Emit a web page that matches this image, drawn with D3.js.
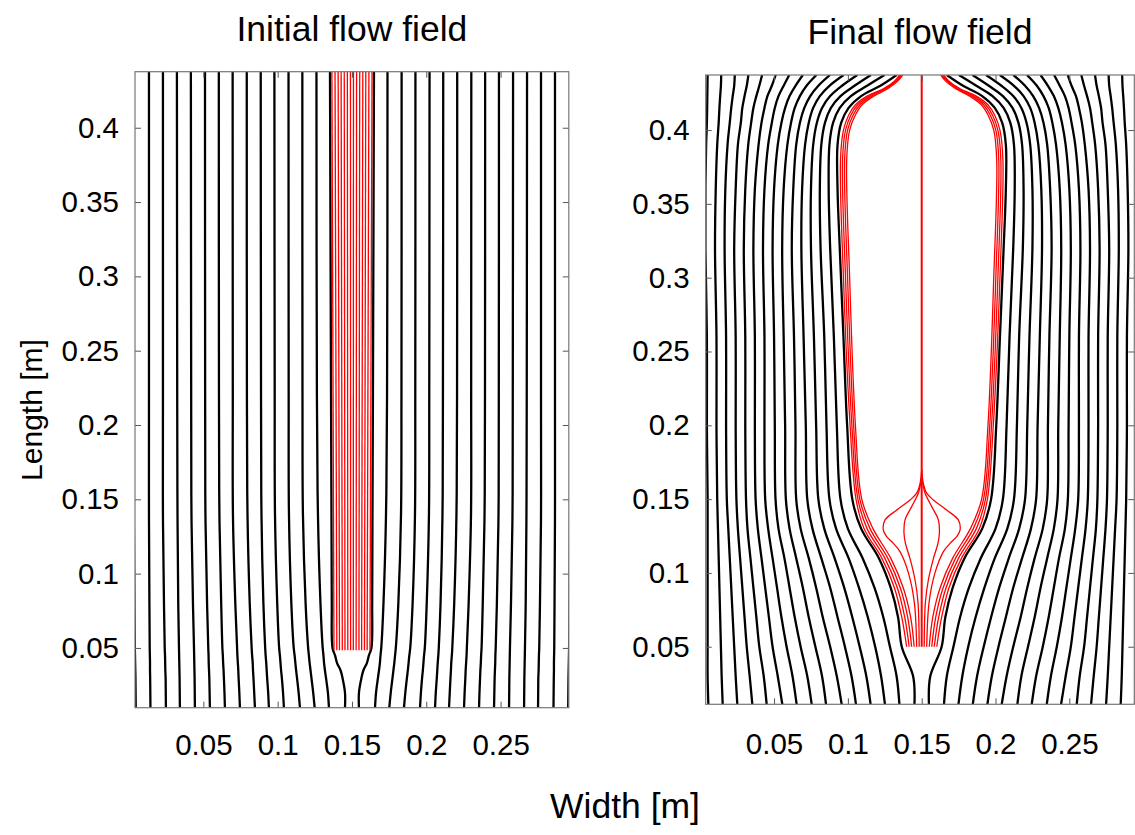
<!DOCTYPE html>
<html>
<head>
<meta charset="utf-8">
<script src="https://cdn.jsdelivr.net/npm/d3@7"></script>
<style>
  body { margin: 0; background: #ffffff; }
  svg { display: block; }
  text { font-family: "Liberation Sans", Arial, Helvetica, sans-serif; fill: #000; }
</style>
</head>
<body>
<svg id="chart" width="1135" height="835"></svg>
<script>
// ---------------------------------------------------------------
// Axis ticks
const xTickValues = [0.05, 0.1, 0.15, 0.2, 0.25];
const yTickValues = [0.05, 0.1, 0.15, 0.2, 0.25, 0.3, 0.35, 0.4];

// Channel centreline (m); streamlines are listed for the left half as
// signed distances from it (mm) and drawn on both sides.
const centreX = 0.15;

// ---------------------------------------------------------------
// Initial flow field
const initialLevels = [0.0098, 0.02, 0.03, 0.035, 0.04, 0.045, 0.05, 0.08, 0.14, 0.22, 0.4377];
const initialBlack = [
  [-4.7, -4.7, -6.4, -7.7, -10.1, -11.4, -13.1, -13.6, -13.8, -14.1, -14.8],
  [-15.5, -16.2, -17.5, -18.2, -18.8, -19.2, -19.7, -21.2, -22.9, -23.6, -23.9],
  [-25.1, -26.1, -27.3, -27.9, -28.5, -29.0, -29.5, -31.2, -33.0, -33.3, -33.4],
  [-35.0, -35.9, -37.0, -37.6, -38.1, -38.6, -39.2, -40.8, -42.4, -42.6, -42.7],
  [-45.8, -46.4, -47.2, -47.7, -48.1, -48.5, -49.0, -50.3, -51.8, -52.0, -52.2],
  [-55.9, -56.4, -57.1, -57.4, -57.7, -58.1, -58.4, -59.6, -60.9, -61.2, -61.4],
  [-65.3, -65.8, -66.3, -66.6, -66.8, -67.2, -67.5, -68.8, -70.3, -70.7, -70.8],
  [-75.4, -75.8, -76.3, -76.5, -76.8, -77.1, -77.3, -78.5, -80.1, -80.2, -80.3],
  [-85.5, -85.8, -86.2, -86.4, -86.7, -86.9, -87.2, -88.0, -89.2, -89.5, -89.6],
  [-95.6, -95.8, -96.0, -96.2, -96.4, -96.5, -96.7, -97.5, -98.6, -98.8, -98.9],
  [-105.7, -105.8, -105.9, -106.0, -106.1, -106.2, -106.3, -107.0, -108.0, -108.2, -108.4],
  [-115.8, -115.9, -116.0, -116.1, -116.2, -116.3, -116.4, -116.9, -117.4, -117.6, -117.8],
  [-125.2, -125.3, -125.4, -125.6, -125.7, -125.8, -126.0, -126.5, -127.2, -127.2, -127.2],
  [-135.6, -135.7, -135.8, -135.9, -135.9, -136.0, -136.1, -136.3, -136.6, -136.6, -136.6],
  [-145.5, -145.6, -145.7, -145.8, -145.9, -146.0, -146.1, -146.4, -146.8, -147.0, -147.0]
];
// jet streamlines (red): distance at the start height and at the top
const initialRedLevels = [0.0485, 0.4377];
const initialRed = [
  [-12.1, -13.5], [-10.2, -11.4], [-8.4, -9.3], [-6.5, -7.3], [-4.7, -5.2], [-2.8, -3.1], [-0.9, -1.0]
];

// ---------------------------------------------------------------
// Final flow field
const finalLevels = [0.011, 0.03, 0.05, 0.07, 0.09, 0.11, 0.13, 0.15, 0.2,
                     0.26, 0.32, 0.36, 0.39, 0.405, 0.415, 0.423, 0.43, 0.4373];
const finalBlack = [
  [-4.9, -5.8, -13.5, -16, -21, -29, -41, -47, -50.5,   -53, -55.5, -57, -57, -54.5, -49.5, -41, -28, -17],
  [-15.1, -17, -21.5, -26, -32, -40, -50, -55, -57.5,   -59.5, -62, -63, -62.5, -60, -55.5, -48, -37, -25.2],
  [-24.9, -27.5, -31.5, -36.5, -42.5, -49.5, -58, -62.5, -64.5,   -66, -68.5, -69, -68, -65.5, -61.5, -55, -45.5, -34.4],
  [-34.6, -37.5, -42, -47, -52.5, -59, -66, -70, -71.5,   -73, -75, -75, -73.5, -71, -67.5, -62, -54, -43.6],
  [-44.5, -47.5, -52, -57, -62, -68, -74, -77.5, -78.5,   -80, -81.5, -81, -79, -76.5, -73.5, -69, -62.5, -52.9],
  [-54.2, -57.5, -62, -67, -71.5, -76.5, -82, -85, -85.5,   -86.5, -88, -87, -85, -82.5, -79.5, -75.5, -70, -62.1],
  [-64.8, -67.5, -72, -76.5, -80.5, -85, -89.5, -92, -92.5,   -93.5, -94.5, -93.5, -91, -88.5, -86, -82.5, -78, -71.3],
  [-74.5, -77.5, -82, -86, -89.5, -93, -97, -99, -99.5,   -100, -101, -100, -97.5, -95, -92.5, -89.5, -85.5, -80.5],
  [-84.7, -87.5, -91.5, -95, -98, -101, -104, -106, -106.5,   -106.5, -107.5, -106.5, -104, -101.5, -99.5, -97, -93.5, -89.7],
  [-94.4, -97.5, -101, -103.5, -106, -108.5, -111, -112.5, -113,   -113, -114, -113, -110.5, -108.5, -106.5, -104.5, -101.5, -98.9],
  [-105, -107, -110, -112, -114, -116, -118, -119, -119.5,   -119.5, -120.5, -119.5, -117.5, -115.5, -114, -112, -110, -108.1],
  [-114.7, -116.5, -118.5, -120, -121.5, -123, -124.5, -125.5, -126,   -126, -127, -126, -124.5, -122.5, -121.5, -120, -118.5, -117.4],
  [-124.9, -126, -127, -128, -129, -130, -131, -132, -132.5,   -132.5, -133.5, -133, -131.5, -130, -129, -128, -127, -126.6],
  [-134.8, -135.5, -136, -136.5, -137, -137.5, -138, -138.5, -139,   -139, -140, -139.5, -138.5, -137.5, -137, -136.5, -136, -135.8],
  [-144.5, -145, -145, -145, -145, -145, -145, -145, -145.5,   -145.5, -146.5, -146.5, -146, -145.5, -145.3, -145.2, -145.1, -145]
];
// recirculation boundary streamlines (red)
const finalBundleLevels = [0.05, 0.07, 0.09, 0.11, 0.13, 0.15, 0.2, 0.3, 0.38, 0.4, 0.41, 0.417, 0.423, 0.428, 0.433, 0.4373];
const finalBundle = [
  [-10.2, -13.5, -18.5, -27, -39, -44.5, -48.5, -53, -55, -53, -49.5, -45, -37, -26, -18.5, -15],
  [-8.5, -11.5, -16.5, -25, -37, -43.2, -47.3, -51.6, -53.6, -51.6, -48, -43.5, -35.5, -25, -17.8, -14.3],
  [-6.8, -9.5, -14.5, -23, -35, -41.9, -46.1, -50.2, -52.2, -50.2, -46.5, -42, -34, -24, -17.1, -13.6],
  [-5.1, -7.5, -12.5, -21, -33, -40.6, -44.9, -48.8, -50.8, -48.8, -45, -40.5, -32.5, -23, -16.4, -12.9]
];
// inner loops closing onto the centreline: [distance mm, height m]
const finalLoops = [
  [[-3.4, 0.05], [-5, 0.08], [-9, 0.1], [-14.7, 0.1144], [-19.2, 0.12], [-24, 0.125], [-26, 0.1291],
   [-24.8, 0.1359], [-16.9, 0.1426], [-7.9, 0.1494], [-3.4, 0.154], [-1.1, 0.1607], [0, 0.17]],
  [[-1.7, 0.05], [-2.5, 0.08], [-4.5, 0.0952], [-8, 0.11], [-11, 0.12], [-12, 0.127], [-11.3, 0.1359],
   [-6.8, 0.1449], [-2.3, 0.154], [-0.7, 0.1607], [0, 0.165]]
];
const finalCentreLevels = [0.05, 0.4373];

// ---------------------------------------------------------------
const panels = [
  { title: "Initial flow field", left: 135, right: 568.8, top: 71.7, bottom: 707.7,
    xDomain: [0.0040, 0.2959], yDomain: [0.0098, 0.4377], titleY: 41, xPad: 26 },
  { title: "Final flow field", left: 705.7, right: 1134.3, top: 75, bottom: 704.3,
    xDomain: [0.0037, 0.2940], yDomain: [0.011, 0.4373], titleY: 44, xPad: 28.5 }
];

const svg = d3.select("#chart");
const fmt = d => String(d);

panels.forEach((p, i) => {
  p.x = d3.scaleLinear().domain(p.xDomain).range([p.left, p.right]);
  p.y = d3.scaleLinear().domain(p.yDomain).range([p.bottom, p.top]);
  svg.append("defs").append("clipPath").attr("id", "clip" + i)
    .append("rect").attr("x", p.left).attr("y", p.top)
    .attr("width", p.right - p.left).attr("height", p.bottom - p.top);
  p.g = svg.append("g");
  p.plot = p.g.append("g").attr("clip-path", `url(#clip${i})`);
  p.line = d3.line().x(d => p.x(d[0])).y(d => p.y(d[1])).curve(d3.curveCatmullRom.alpha(0.5));
});

// both mirror images of one half-streamline
function pair(offsets, levels) {
  const l = levels.map((y, j) => [centreX + offsets[j] / 1000, y]);
  const r = levels.map((y, j) => [centreX - offsets[j] / 1000, y]);
  return [l, r];
}
function pairPts(pts) {
  const l = pts.map(d => [centreX + d[0] / 1000, d[1]]);
  const r = pts.map(d => [centreX - d[0] / 1000, d[1]]);
  return [l, r];
}

function drawLines(p, list, color, width) {
  p.plot.append("g").selectAll("path").data(list).join("path")
    .attr("d", p.line).attr("fill", "none")
    .attr("stroke", color).attr("stroke-width", width)
    .attr("stroke-linejoin", "round");
}

// ---- Initial flow field
{
  const p = panels[0];
  drawLines(p, initialBlack.flatMap(o => pair(o, initialLevels)), "#000", 2.3);
  drawLines(p, initialRed.flatMap(o => pair(o, initialRedLevels)), "#ff0000", 1.3);
}

// ---- Final flow field
{
  const p = panels[1];
  drawLines(p, finalBlack.flatMap(o => pair(o, finalLevels)), "#000", 2.3);
  drawLines(p, finalBundle.flatMap(o => pair(o, finalBundleLevels)), "#ff0000", 1.3);
  drawLines(p, finalLoops.flatMap(pairPts), "#ff0000", 1.3);
  drawLines(p, [finalCentreLevels.map(y => [centreX, y])], "#ff0000", 2);
}

// ---- frames, ticks, labels
panels.forEach(p => {
  const tick = 6;
  const ax = [
    p.g.append("g").attr("transform", `translate(0,${p.bottom})`)
      .call(d3.axisBottom(p.x).tickValues(xTickValues).tickFormat(fmt).tickSize(-tick).tickPadding(p.xPad)),
    p.g.append("g").attr("transform", `translate(0,${p.top})`)
      .call(d3.axisTop(p.x).tickValues(xTickValues).tickFormat("").tickSize(-tick)),
    p.g.append("g").attr("transform", `translate(${p.left},0)`)
      .call(d3.axisLeft(p.y).tickValues(yTickValues).tickFormat(fmt).tickSize(-tick).tickPadding(16)),
    p.g.append("g").attr("transform", `translate(${p.right},0)`)
      .call(d3.axisRight(p.y).tickValues(yTickValues).tickFormat("").tickSize(-tick))
  ];
  ax.forEach(a => {
    a.select(".domain").remove();
    a.selectAll(".tick line").attr("stroke", "#555").attr("stroke-width", 1);
    a.selectAll("text").attr("font-size", 29.5).attr("font-family", "'Liberation Sans', Arial, sans-serif");
  });
  p.g.append("rect").attr("x", p.left).attr("y", p.top)
    .attr("width", p.right - p.left).attr("height", p.bottom - p.top)
    .attr("fill", "none").attr("stroke", "#777").attr("stroke-width", 1.2);
  p.g.append("text").attr("x", (p.left + p.right) / 2).attr("y", p.titleY)
    .attr("text-anchor", "middle").attr("font-size", 35.5).text(p.title);
});

svg.append("text").attr("x", 625).attr("y", 818).attr("text-anchor", "middle")
  .attr("font-size", 35.5).text("Width [m]");
svg.append("text").attr("transform", "translate(42,410) rotate(-90)")
  .attr("text-anchor", "middle").attr("font-size", 30).text("Length [m]");
</script>
</body>
</html>
